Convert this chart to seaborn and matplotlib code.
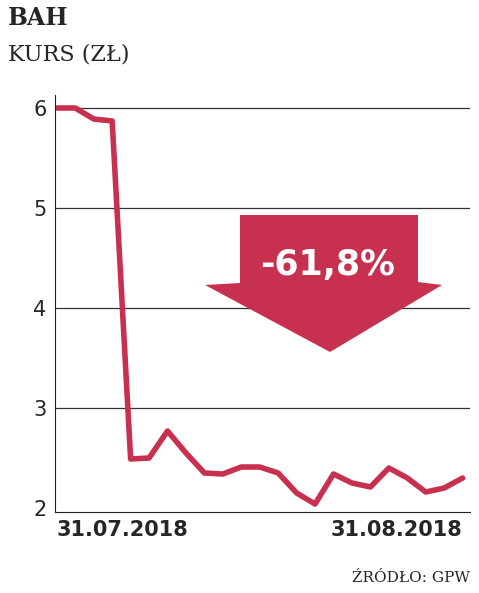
import matplotlib
matplotlib.use("Agg")
import matplotlib.pyplot as plt
import seaborn as sns
from matplotlib.patches import Polygon

prices = [6.0, 6.0, 5.89, 5.87, 2.49, 2.50, 2.77, 2.55, 2.35, 2.34, 2.41, 2.41,
          2.35, 2.15, 2.04, 2.34, 2.25, 2.21, 2.40, 2.30, 2.16, 2.20, 2.30]
days = list(range(len(prices)))
tick_labels = ["31.07.2018", "31.08.2018"]
yticks = [2, 3, 4, 5, 6]

sns.set_style("white")
plt.rcParams['font.family'] = ['DejaVu Sans']
W, H = 479, 593
fig = plt.figure(figsize=(W/100, H/100), dpi=100)
ax = fig.add_axes([55/W, 1-512/H, 415/W, 417/H])
sns.lineplot(x=days, y=prices, ax=ax, color="#c8304f", linewidth=4)
ax.set_ylim(1.96, 6.13)
ax.set_xlim(-0.1, 22.4)
ax.set_yticks(yticks)
ax.set_yticklabels([str(v) for v in yticks], fontsize=15)
for v in yticks[1:]:
    ax.axhline(v, color="#333333", lw=0.9, zorder=0)
ax.set_xticks([0, 22])
ax.set_xticklabels(tick_labels, fontsize=15, fontweight="bold")
ax.get_xticklabels()[0].set_ha("left")
ax.get_xticklabels()[1].set_ha("right")
for s in ["top", "right"]:
    ax.spines[s].set_visible(False)
ax.spines["left"].set_color("#222222")
ax.spines["bottom"].set_color("#222222")
ax.tick_params(axis="both", length=0, pad=6)

pts = [(240, 215), (418, 215), (418, 282), (442, 285), (330, 352), (205, 285), (240, 283)]
poly = Polygon([(x/W, 1-y/H) for x, y in pts], closed=True, transform=fig.transFigure,
               facecolor="#c8304f", edgecolor="none", zorder=5)
fig.patches.append(poly)
fig.text(328/W, 1-265/H, "-61,8%", color="white", fontsize=25, fontweight="bold",
         ha="center", va="center", zorder=10)

fig.text(8/W, 1-18/H, "BAH", fontsize=17, fontweight="bold", va="center",
         family="DejaVu Serif")
fig.text(8/W, 1-55/H, "KURS (ZŁ)", fontsize=16, va="center", family="DejaVu Serif")
fig.text(470/W, 1-578/H, "ŹRÓDŁO: GPW", fontsize=11, ha="right", va="center",
         family="DejaVu Serif")
fig.savefig("out.png", dpi=100)
